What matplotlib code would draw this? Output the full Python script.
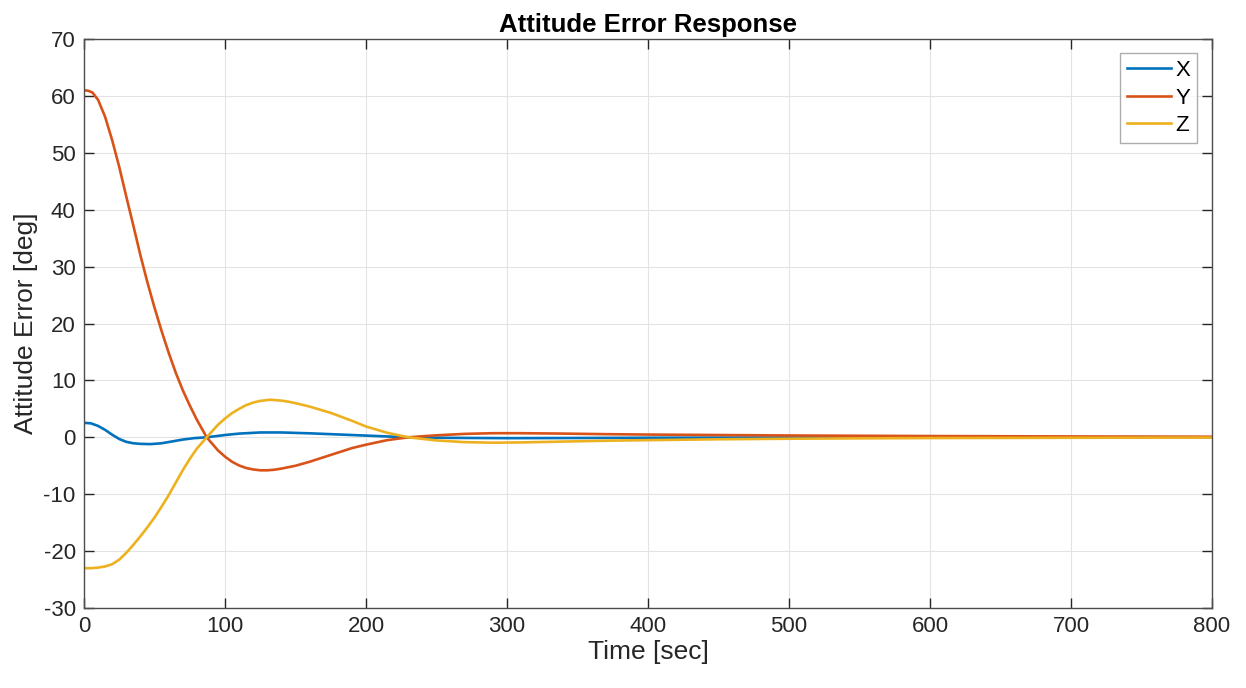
import matplotlib
matplotlib.use("Agg")
import matplotlib.pyplot as plt

plt.rcParams['font.family'] = ['Liberation Sans', 'DejaVu Sans']
plt.rcParams['axes.unicode_minus'] = False

# Time samples [sec] and attitude error readings [deg]
t_x = [0, 5, 10, 15, 20, 25, 30, 35, 40, 47, 55, 62, 70, 78, 87, 100, 110, 125, 140,
       160, 180, 200, 230, 260, 300, 350, 400, 500, 600, 800]
err_x = [2.55, 2.45, 2.0, 1.3, 0.45, -0.3, -0.8, -1.05, -1.15, -1.2, -1.05, -0.75, -0.4,
         -0.15, 0.0, 0.4, 0.65, 0.85, 0.85, 0.7, 0.5, 0.3, 0.0, -0.1, -0.15, -0.12,
         -0.08, -0.03, -0.01, 0.0]

t_y = [0, 3, 6, 10, 15, 20, 25, 30, 35, 40, 45, 50, 55, 60, 65, 70, 75, 80, 87, 95,
       100, 105, 110, 115, 120, 125, 130, 135, 140, 150, 160, 175, 190, 200, 215, 230,
       250, 270, 290, 310, 340, 370, 400, 450, 500, 550, 600, 700, 800]
err_y = [61.0, 60.9, 60.6, 59.3, 56.3, 52.2, 47.5, 42.3, 37.2, 32.0, 27.2, 22.8, 18.7,
         14.9, 11.4, 8.3, 5.6, 3.1, 0.0, -2.3, -3.4, -4.3, -4.95, -5.4, -5.65, -5.8,
         -5.8, -5.7, -5.5, -5.0, -4.3, -3.1, -1.9, -1.3, -0.5, 0.0, 0.35, 0.6, 0.72,
         0.72, 0.65, 0.55, 0.48, 0.4, 0.32, 0.27, 0.22, 0.15, 0.1]

t_z = [0, 5, 10, 15, 20, 25, 30, 35, 40, 45, 50, 55, 60, 65, 70, 75, 80, 87, 95, 100,
       105, 110, 115, 120, 125, 132, 140, 145, 150, 160, 175, 190, 200, 215, 230, 250,
       270, 290, 310, 340, 370, 400, 450, 500, 550, 600, 700, 800]
err_z = [-23.0, -23.0, -22.9, -22.7, -22.3, -21.5, -20.3, -18.9, -17.4, -15.8, -14.1,
         -12.2, -10.2, -8.0, -5.8, -3.8, -2.0, 0.0, 2.2, 3.3, 4.25, 5.0, 5.65, 6.1, 6.4,
         6.6, 6.45, 6.25, 6.0, 5.4, 4.3, 2.9, 1.9, 0.8, 0.0, -0.55, -0.85, -0.95, -0.9,
         -0.75, -0.6, -0.5, -0.35, -0.25, -0.18, -0.13, -0.08, -0.05]

series = [("X", t_x, err_x, "#0072BD"),
          ("Y", t_y, err_y, "#D95319"),
          ("Z", t_z, err_z, "#EDB120")]

x_ticks = [0, 100, 200, 300, 400, 500, 600, 700, 800]
y_ticks = [-30, -20, -10, 0, 10, 20, 30, 40, 50, 60, 70]

fig = plt.figure(figsize=(12.46, 6.88), dpi=100)
ax = fig.add_axes([84/1246, 80/688, (1212-84)/1246, (608-39)/688])

for name, t, e, c in series:
    ax.plot(t, e, color=c, lw=1.9, label=name, solid_joinstyle="round")

ax.set_xlim(0, 800)
ax.set_ylim(-30, 70)
ax.set_xticks(x_ticks)
ax.set_yticks(y_ticks)
ax.grid(True, color="#e3e3e3", lw=0.8)
ax.set_axisbelow(True)
ax.tick_params(direction="in", length=7, width=1, colors="#262626",
               labelsize=16, top=True, right=True, pad=6)
for s in ax.spines.values():
    s.set_color("#4d4d4d")
    s.set_linewidth(1.0)

ax.set_xlabel("Time [sec]", fontsize=19, color="#262626", labelpad=2)
ax.set_ylabel("Attitude Error [deg]", fontsize=19, color="#262626", labelpad=4)
ax.set_title("Attitude Error Response", fontsize=18.5, fontweight="bold", pad=5)

leg = ax.legend(loc="upper right", bbox_to_anchor=(0.9867, 0.975), fontsize=16,
                frameon=True, fancybox=False, edgecolor="#999999",
                handlelength=2.0, handletextpad=0.2, borderpad=0.3,
                labelspacing=0.3, borderaxespad=0)
leg.get_frame().set_linewidth(1.0)

fig.savefig("out.png", dpi=100, facecolor="white")
